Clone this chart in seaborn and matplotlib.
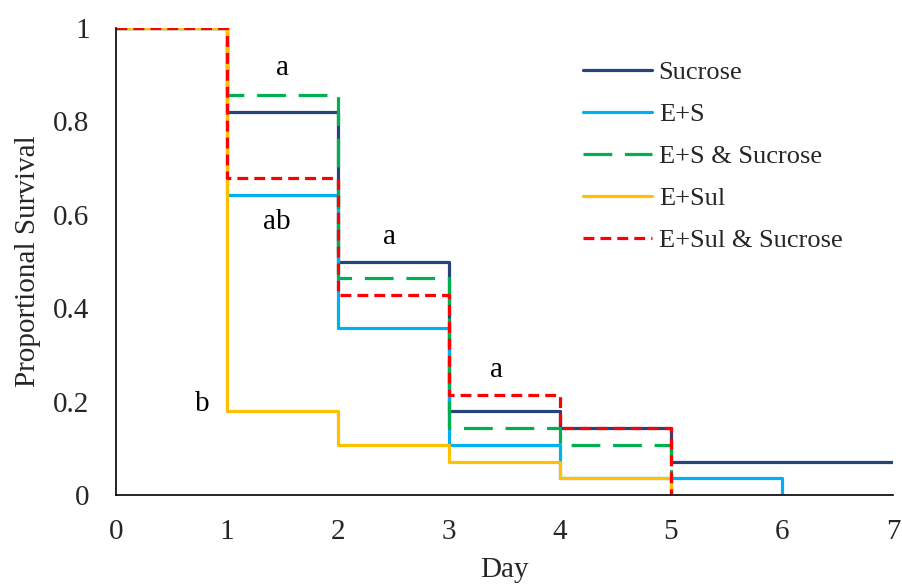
import matplotlib
matplotlib.use("Agg")
import matplotlib.pyplot as plt
import seaborn as sns
import pandas as pd

# Daily survival fractions per treatment
treatments = ["Sucrose", "E+S", "E+S & Sucrose", "E+Sul", "E+Sul & Sucrose"]
days_sucrose = [0, 1, 2, 3, 4, 5, 6, 7]
surv_sucrose = [1.0, 0.821, 0.500, 0.179, 0.143, 0.071, 0.071, 0.071]
days_es = [0, 1, 2, 3, 4, 5, 6]
surv_es = [1.0, 0.643, 0.357, 0.107, 0.036, 0.036, 0.0]
days_es_suc = [0, 1, 2, 3, 4, 5]
surv_es_suc = [1.0, 0.857, 0.464, 0.143, 0.107, 0.0]
days_esul = [0, 1, 2, 3, 4, 5]
surv_esul = [1.0, 0.179, 0.107, 0.071, 0.036, 0.0]
days_esul_suc = [0, 1, 2, 3, 4, 5]
surv_esul_suc = [1.0, 0.679, 0.429, 0.214, 0.143, 0.0]

# Significance letters: (text, day, survival)
letters = ["a", "ab", "a", "a", "b"]
letter_x = [1.50, 1.45, 2.46, 3.43, 0.78]
letter_y = [0.915, 0.585, 0.552, 0.268, 0.195]

series = [
    (treatments[0], days_sucrose, surv_sucrose),
    (treatments[1], days_es, surv_es),
    (treatments[2], days_es_suc, surv_es_suc),
    (treatments[3], days_esul, surv_esul),
    (treatments[4], days_esul_suc, surv_esul_suc),
]
df = pd.concat(
    [pd.DataFrame({"Day": d, "Survival": s, "Treatment": name}) for name, d, s in series],
    ignore_index=True,
)

palette = {
    "Sucrose": "#264478",
    "E+S": "#00B0F0",
    "E+S & Sucrose": "#00B050",
    "E+Sul": "#FFC000",
    "E+Sul & Sucrose": "#FF0000",
}
dashes = {
    "Sucrose": "",
    "E+S": "",
    "E+S & Sucrose": (9.0, 4.0),
    "E+Sul": "",
    "E+Sul & Sucrose": (3.4, 1.9),
}

sns.set_style("white")
plt.rcParams["font.family"] = ["Liberation Serif", "DejaVu Serif"]
plt.rcParams["lines.dash_capstyle"] = "butt"

FS = 21
LEG_FS = 19

fig = plt.figure(figsize=(9.02, 5.85), dpi=100)
ax = fig.add_axes([0.1286, 0.1538, 0.8614, 0.7983])

sns.lineplot(
    data=df, x="Day", y="Survival", hue="Treatment", style="Treatment",
    hue_order=treatments, style_order=treatments,
    palette=palette, dashes=dashes, estimator=None, sort=False,
    drawstyle="steps-post", linewidth=2.3, ax=ax,
)

ax.set_xlim(0, 7)
ax.set_ylim(0, 1)
ax.set_xticks(range(0, 8))
ax.set_xticklabels([str(i) for i in range(0, 8)], fontsize=FS)
yt = [0, 0.2, 0.4, 0.6, 0.8, 1]
ax.set_yticks(yt)
ax.set_yticklabels(["0", "0.2", "0.4", "0.6", "0.8", "1"], fontsize=FS)
ax.tick_params(axis="x", length=0, pad=17)
ax.tick_params(axis="y", length=0, pad=19)
for side in ["top", "right"]:
    ax.spines[side].set_visible(False)
for side in ["left", "bottom"]:
    ax.spines[side].set_color("black")
    ax.spines[side].set_linewidth(1.2)

ax.set_xlabel("Day", fontsize=FS, labelpad=9)
ax.set_ylabel("Proportional Survival", fontsize=FS, labelpad=9)

for t, x, y in zip(letters, letter_x, letter_y):
    ax.text(x, y, t, fontsize=FS, ha="center", va="center", color="black")

ax.legend(
    loc="upper left", bbox_to_anchor=(583 / 902, 1 - 61 / 585), bbox_transform=fig.transFigure,
    frameon=False, fontsize=LEG_FS, handlelength=2.6, handletextpad=0.27,
    labelspacing=0.7, borderpad=0, borderaxespad=0,
)

fig.savefig("out.png", dpi=100)
